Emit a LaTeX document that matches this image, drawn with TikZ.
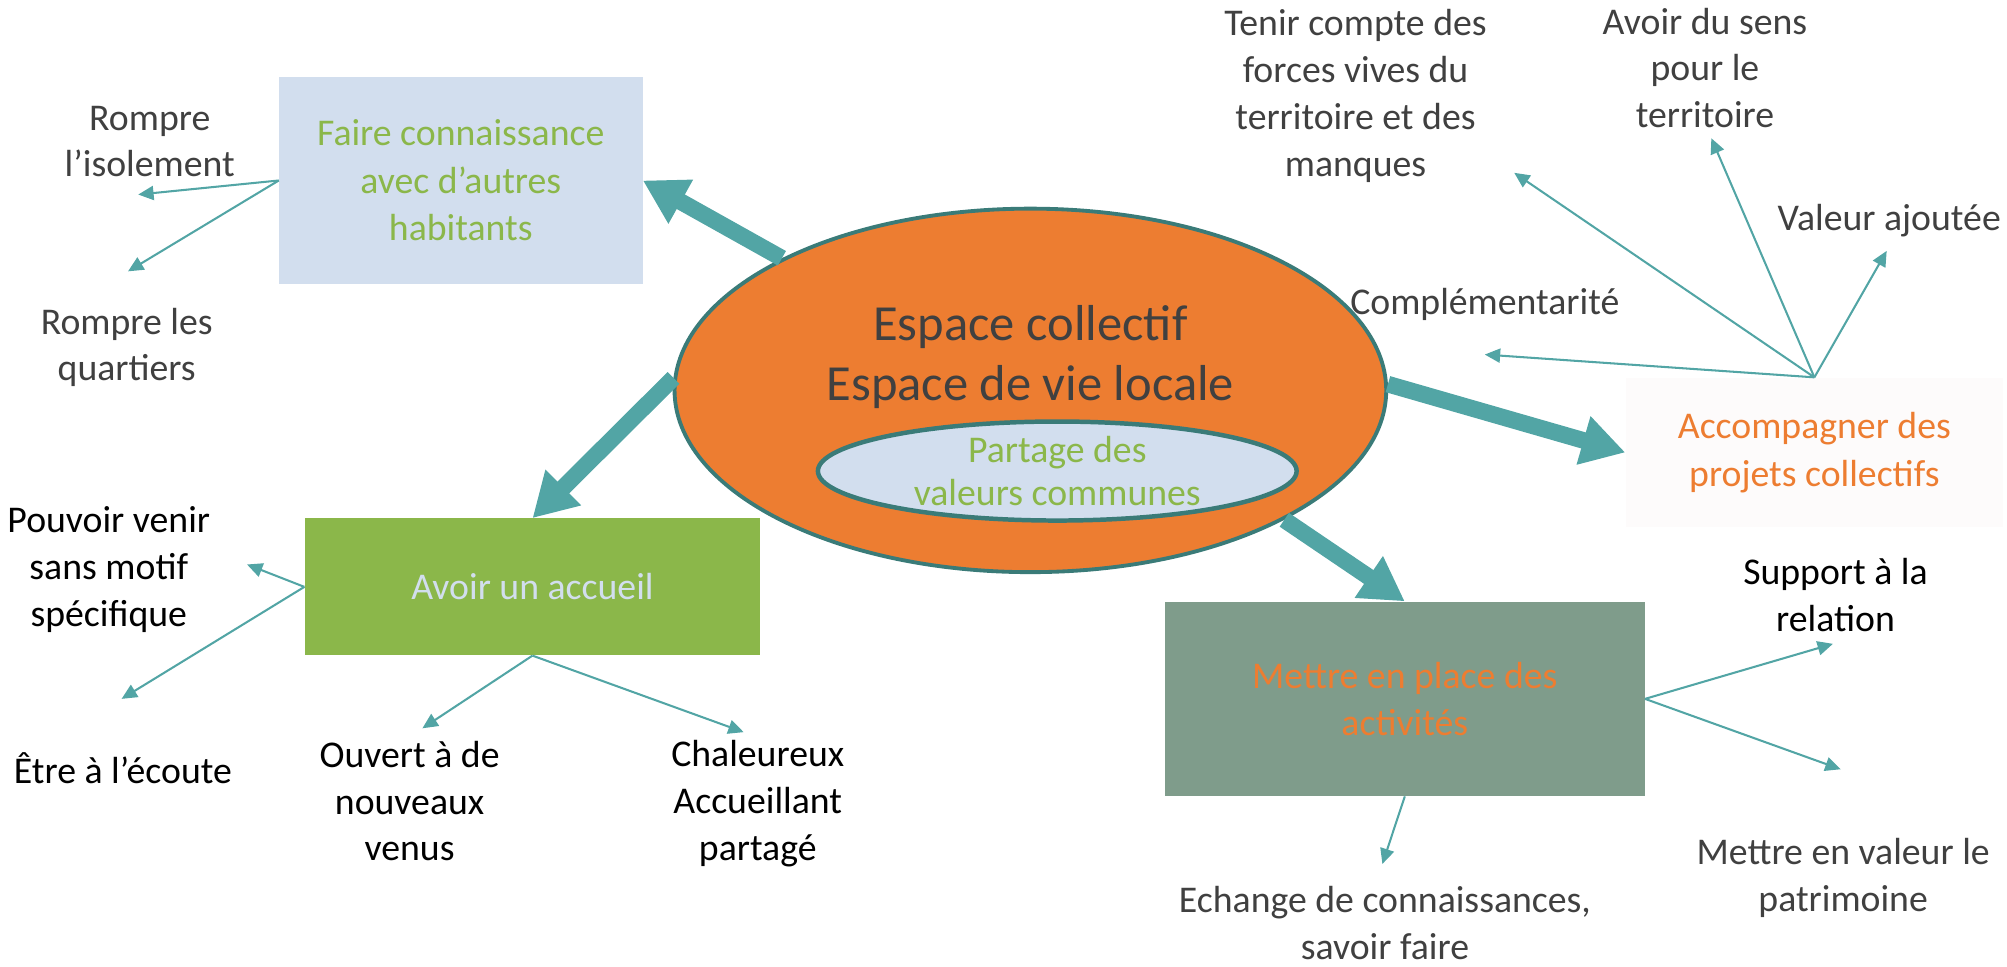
\documentclass[tikz,border=0pt]{standalone}
\usepackage{fontspec}
\setmainfont{Carlito}
\usetikzlibrary{arrows.meta,shapes.geometric}
\definecolor{teal}{HTML}{52A5A5}
\definecolor{darkteal}{HTML}{3A7B78}
\definecolor{orng}{HTML}{ED7D31}
\definecolor{lblue}{HTML}{D2DEEE}
\definecolor{grn}{HTML}{8BB74A}
\definecolor{sage}{HTML}{7F9C8B}
\definecolor{txtgray}{HTML}{404040}
\definecolor{offwhite}{HTML}{FDFBFB}
\tikzset{
  lbl/.style={font=\fontsize{29.5}{36.5}\selectfont, align=center, inner sep=0pt, text=txtgray},
  blk/.style={lbl, text=black},
  boxnode/.style={rectangle, inner sep=0pt, align=center, font=\fontsize{29.5}{37}\selectfont},
  thin/.style={draw=teal, line width=1.6pt, -{Triangle[length=12pt,width=11pt]}},
  thick/.style={draw=teal, line width=13pt, -{Triangle[length=34pt,width=37pt]}},
}
\begin{document}
\begin{tikzpicture}[x=1pt,y=-1pt]
\useasboundingbox (0,0) rectangle (1568,755);
% boxes
\node[boxnode, fill=lblue, text=grn, minimum width=284pt, minimum height=162pt] (box1) at (360,141) {Faire connaissance\\avec d’autres\\habitants};
\node[boxnode, fill=grn, text=lblue, minimum width=356pt, minimum height=107pt] (avoir) at (416,458.5) {Avoir un accueil};
\node[boxnode, fill=offwhite, text=orng, minimum width=295pt, minimum height=117pt] (acc) at (1417.5,353.5) {Accompagner des\\projets collectifs};
\node[boxnode, fill=sage, text=orng, minimum width=375pt, minimum height=152pt] (mettre) at (1097.5,546) {Mettre en place des\\activités};
% central ellipse
\node[ellipse, draw=darkteal, line width=3pt, fill=orng, minimum width=556pt, minimum height=284pt, inner sep=0pt] (core) at (805,305) {};
\node[inner sep=0pt, align=center, text=txtgray, font=\fontsize{39.5}{47}\selectfont] (coretext) at (805,279) {Espace collectif\\Espace de vie locale};
\node[ellipse, draw=darkteal, line width=3.5pt, fill=lblue, minimum width=374pt, minimum height=70pt, inner sep=0pt, align=center, text=grn, font=\fontsize{29.5}{34}\selectfont] (inner) at (826,368) {Partage des\\valeurs communes};
% thick arrows
\draw[thick] (core.152) -- (box1.east);
\draw[thick] (core.178) -- (avoir.north);
\draw[thick] (core.1.5) -- (acc.west);
\draw[thick] (core.-27) -- (mettre.north);
% labels
\node[lbl] (l1) at (117,110.5) {Rompre\\l’isolement};
\node[lbl] (l2) at (99,271.5) {Rompre les\\quartiers};
\node[blk] (l3) at (85,445) {Pouvoir venir\\sans motif\\spécifique};
\node[blk] (l4) at (96,600) {Être à l’écoute};
\node[blk] (l5) at (320,626) {Ouvert à de\\nouveaux\\venus};
\node[blk] (l6) at (592,628) {Chaleureux\\Accueillant\\partagé};
\node[lbl] (l7) at (1059,75) {Tenir compte des\\forces vives du\\territoire et des\\manques};
\node[lbl] (l8) at (1332,53) {Avoir du sens\\pour le\\territoire};
\node[lbl] (l9) at (1476,172) {Valeur ajoutée};
\node[lbl] (l10) at (1160,238) {Complémentarité};
\node[blk] (l11) at (1434,465) {Support à la\\relation};
\node[lbl] (l12) at (1440,686) {Mettre en valeur le\\patrimoine};
\node[lbl] (l13) at (1082,721) {Echange de connaissances,\\savoir faire};
% arrow ends
\coordinate (t1) at (108,152);
\coordinate (t2) at (100,212);
\coordinate (t3) at (193,441);
\coordinate (t4) at (95,546);
\coordinate (t5) at (330,569);
\coordinate (t6) at (581,572);
\coordinate (t7) at (1183,135);
\coordinate (t8) at (1337,108);
\coordinate (t9) at (1474,196);
\coordinate (t10) at (1160,277);
\coordinate (t11) at (1432,503);
\coordinate (t12) at (1438,601);
\coordinate (t13) at (1080,675);
% thin arrows
\draw[thin] (box1.west) -- (t1);
\draw[thin] (box1.west) -- (t2);
\draw[thin] (avoir.west) -- (t3);
\draw[thin] (avoir.west) -- (t4);
\draw[thin] (avoir.south) -- (t5);
\draw[thin] (avoir.south) -- (t6);
\draw[thin] (acc.north) -- (t7);
\draw[thin] (acc.north) -- (t8);
\draw[thin] (acc.north) -- (t9);
\draw[thin] (acc.north) -- (t10);
\draw[thin] (mettre.east) -- (t11);
\draw[thin] (mettre.east) -- (t12);
\draw[thin] (mettre.south) -- (t13);
\end{tikzpicture}
\end{document}
